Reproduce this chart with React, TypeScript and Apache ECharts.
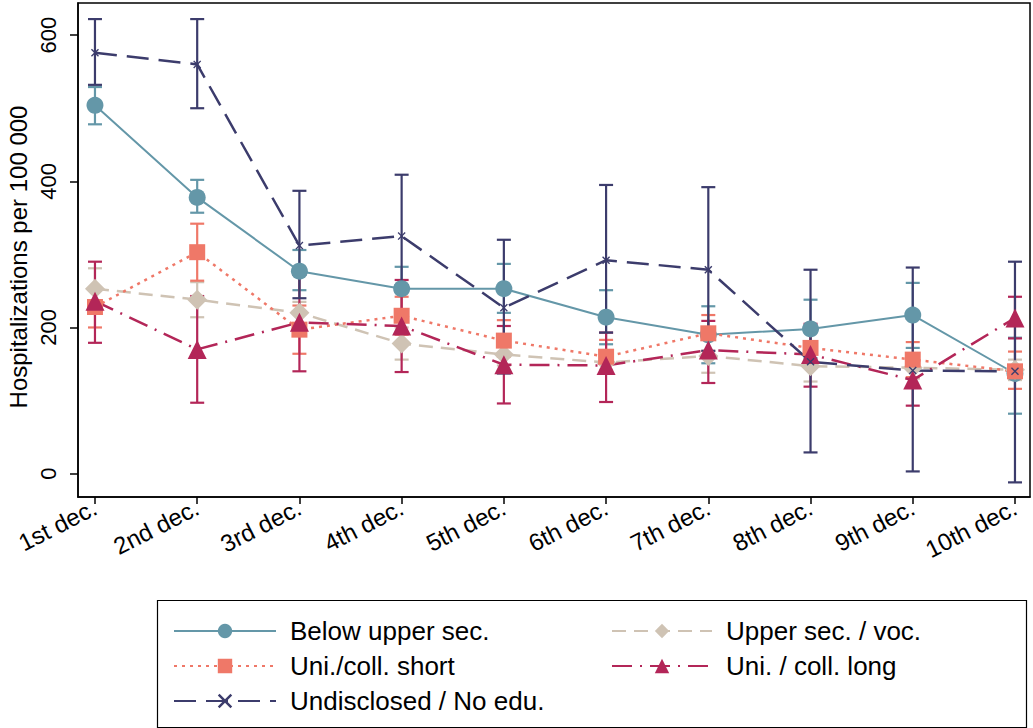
import React, { useEffect, useRef } from "react";
import * as echarts from "echarts";

const categories = ["1st dec.", "2nd dec.", "3rd dec.", "4th dec.", "5th dec.", "6th dec.", "7th dec.", "8th dec.", "9th dec.", "10th dec."];
const yTicks = [0, 200, 400, 600];
const yTitle = "Hospitalizations per 100 000";

const belowVal = [504, 378, 277, 253, 253, 214, 190, 198, 217, 137];
const belowLo = [478, 357, 251, 223, 220, 177, 151, 158, 172, 82];
const belowHi = [529, 402, 306, 283, 287, 251, 229, 238, 261, 186];

const upperVal = [253, 238, 220, 178, 163, 152, 161, 147, 145, 142];
const upperLo = [228, 214, 205, 156, 148, 142, 138, 126, 130, 128];
const upperHi = [281, 262, 235, 200, 178, 163, 184, 164, 160, 156];

const shortVal = [228, 303, 197, 216, 182, 160, 192, 172, 156, 140];
const shortLo = [200, 264, 164, 190, 160, 138, 168, 148, 132, 116];
const shortHi = [255, 342, 230, 242, 210, 183, 217, 197, 180, 167];

const longVal = [236, 170, 207, 202, 149, 148, 169, 163, 128, 213];
const longLo = [179, 97, 140, 139, 96, 98, 124, 119, 93, 185];
const longHi = [290, 243, 272, 265, 202, 193, 209, 205, 163, 242];

const undVal = [576, 560, 312, 325, 227, 292, 279, 153, 141, 140];
const undLo = [532, 500, 240, 258, 137, 193, 168, 29, 3, -12];
const undHi = [622, 622, 387, 409, 320, 395, 392, 279, 282, 290];

const FONT = "Liberation Sans";
const X_SYMBOL = "path://M0,1.2L1.2,0L5,3.8L8.8,0L10,1.2L6.2,5L10,8.8L8.8,10L5,6.2L1.2,10L0,8.8L3.8,5Z";

const seriesDefs = [
  { name: "Below upper sec.", val: belowVal, lo: belowLo, hi: belowHi, color: "#6497A8", symbol: "circle", size: 17, line: { type: "solid", width: 2 } },
  { name: "Upper sec. / voc.", val: upperVal, lo: upperLo, hi: upperHi, color: "#CFC3B4", symbol: "diamond", size: 20, line: { type: [14, 8], width: 2.5 } },
  { name: "Uni./coll. short", val: shortVal, lo: shortLo, hi: shortHi, color: "#EF7868", symbol: "rect", size: 16, line: { type: [3, 5], width: 2.5 } },
  { name: "Uni. / coll. long", val: longVal, lo: longLo, hi: longHi, color: "#B32658", symbol: "triangle", size: 19, line: { type: [20, 8, 2, 8], width: 2.5 } },
  { name: "Undisclosed / No edu.", val: undVal, lo: undLo, hi: undHi, color: "#3C3C6C", symbol: X_SYMBOL, size: 8, line: { type: [22, 10], width: 2.5 } },
];

export default function App() {
  const ref = useRef<HTMLDivElement>(null);
  useEffect(() => {
    if (!ref.current) return;
    const chart = echarts.init(ref.current, null, { renderer: "svg" });
    const errSeries = seriesDefs.map((s) => ({
      type: "custom",
      name: s.name + " CI",
      silent: true,
      z: 2,
      encode: { x: 0, y: [1, 2] },
      data: s.val.map((_, i) => [i, s.lo[i], s.hi[i]]),
      renderItem: (params: any, api: any) => {
        const x = api.value(0);
        const p1 = api.coord([x, api.value(1)]);
        const p2 = api.coord([x, api.value(2)]);
        const hw = 7;
        const st = { stroke: s.color, lineWidth: 2.2 };
        return {
          type: "group",
          children: [
            { type: "line", shape: { x1: p1[0], y1: p1[1], x2: p2[0], y2: p2[1] }, style: st },
            { type: "line", shape: { x1: p1[0] - hw, y1: p1[1], x2: p1[0] + hw, y2: p1[1] }, style: st },
            { type: "line", shape: { x1: p2[0] - hw, y1: p2[1], x2: p2[0] + hw, y2: p2[1] }, style: st },
          ],
        };
      },
    }));
    const lineSeries = seriesDefs.map((s) => ({
      type: "line",
      name: s.name,
      z: 3,
      data: s.val.map((v, i) => [i, v]),
      symbol: s.symbol,
      symbolSize: s.size,
      showSymbol: true,
      color: s.color,
      itemStyle: { color: s.color, opacity: 1 },
      lineStyle: { color: s.color, type: s.line.type, width: s.line.width },
    }));
    const legendText = { fontSize: 26, color: "#000", fontFamily: FONT, lineHeight: 28, padding: [0, 0, 0, 9] };
    chart.setOption({
      animation: false,
      backgroundColor: "#ffffff",
      textStyle: { fontFamily: FONT },
      grid: { left: 78, right: 3, top: 3, bottom: 231, show: true, borderColor: "#000", borderWidth: 1.5, backgroundColor: "transparent" },
      xAxis: {
        type: "value",
        min: -0.166,
        max: 9.147,
        splitLine: { show: false },
        axisLine: { show: true, onZero: false, lineStyle: { color: "#000", width: 1.5 } },
        axisTick: { show: true, length: 7, lineStyle: { color: "#000", width: 1.5 }, customValues: categories.map((_, i) => i) },
        axisLabel: {
          customValues: categories.map((_, i) => i),
          formatter: (v: number) => categories[Math.round(v)],
          rotate: 27,
          margin: 9,
          color: "#000",
          fontSize: 24,
          fontFamily: FONT,
        },
      },
      yAxis: {
        type: "value",
        min: -32,
        max: 644,
        splitLine: { show: false },
        axisLine: { show: true, onZero: false, lineStyle: { color: "#000", width: 1.5 } },
        axisTick: { show: true, length: 8, lineStyle: { color: "#000", width: 1.5 }, customValues: yTicks },
        axisLabel: { customValues: yTicks, rotate: 90, margin: 19, color: "#000", fontSize: 22, fontFamily: FONT },
      },
      legend: [
        {
          orient: "vertical",
          left: 168,
          top: 612,
          itemWidth: 102,
          itemHeight: 18,
          itemGap: 7,
          data: [seriesDefs[0].name, seriesDefs[2].name, seriesDefs[4].name],
          textStyle: legendText,
        },
        {
          orient: "vertical",
          left: 606,
          top: 612,
          itemWidth: 100,
          itemHeight: 18,
          itemGap: 7,
          data: [seriesDefs[1].name, seriesDefs[3].name],
          textStyle: legendText,
        },
      ],
      graphic: [
        { type: "rect", left: 155, top: 598, shape: { width: 869, height: 127 }, style: { fill: "none", stroke: "#000", lineWidth: 1.2 }, z: 0 },
        {
          type: "text",
          x: 18,
          y: 257,
          rotation: Math.PI / 2,
          style: { text: yTitle, fontSize: 24, fontFamily: FONT, fill: "#000", align: "center", verticalAlign: "middle" },
        },
      ],
      series: [...errSeries, ...lineSeries],
    });
    return () => chart.dispose();
  }, []);
  return <div ref={ref} style={{ position: "fixed", left: 0, top: 0, width: 1033, height: 728 }} />;
}
